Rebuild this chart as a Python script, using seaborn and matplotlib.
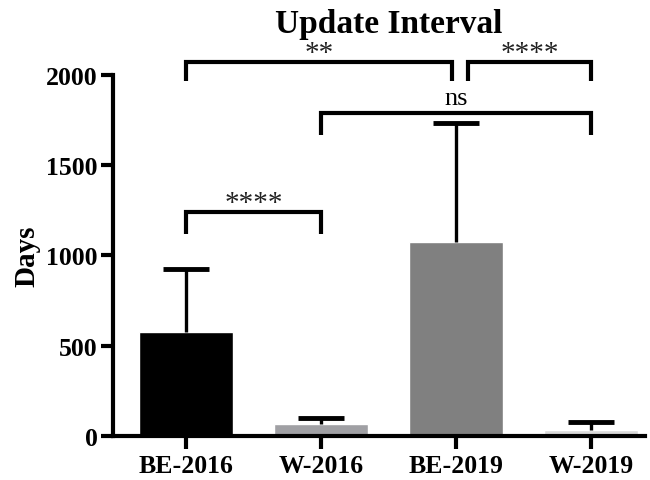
import matplotlib
matplotlib.use("Agg")
import matplotlib.pyplot as plt
import seaborn as sns

# data
groups = ["BE-2016", "W-2016", "BE-2019", "W-2019"]
mean_days = [574, 65, 1076, 35]
upper_days = [922, 100, 1732, 76]
bar_colors = ["#000000", "#a0a0a4", "#808080", "#d9d9d9"]

# significance brackets: (x1, x2, line y, leg bottom, label)
brackets = [
    (0, 1, 1240, 1117, "****"),
    (1, 3, 1790, 1667, "ns"),
    (0, 1.97, 2070, 1968, "**"),
    (2.09, 3, 2070, 1968, "****"),
]

sns.set_style("ticks")
plt.rcParams["font.family"] = ["Liberation Serif", "DejaVu Serif"]

fig = plt.figure(figsize=(6.5, 4.81), dpi=100)
ax = fig.add_axes([0.174, 0.0915, 0.818, 0.751])

sns.barplot(x=groups, y=mean_days, hue=groups, palette=bar_colors,
            legend=False, width=0.7, ax=ax, saturation=1)

# upper-only error bars (SD)
xs = list(range(len(groups)))
ax.vlines(xs, mean_days, upper_days, color="black", lw=2.4)
ax.hlines(upper_days, [x - 0.17 for x in xs], [x + 0.17 for x in xs],
          color="black", lw=3.5)

ax.set_xlim(-0.54, 3.4)
ax.set_ylim(0, 2000)
ax.set_yticks([0, 500, 1000, 1500, 2000])
ax.set_ylabel("Days", fontsize=21, fontweight="bold", labelpad=4,
              color="black")
ax.set_title("Update Interval", fontsize=24, fontweight="bold", pad=31,
             x=0.519, color="black")

for lbl in ax.get_xticklabels() + ax.get_yticklabels():
    lbl.set_fontweight("bold")
ax.tick_params(axis="x", labelsize=18.5, length=9, width=3, pad=4,
               color="black", labelcolor="black")
ax.tick_params(axis="y", labelsize=18.5, length=9, width=3, pad=2,
               color="black", labelcolor="black")

sns.despine(ax=ax)
for side in ["left", "bottom"]:
    ax.spines[side].set_linewidth(3)
    ax.spines[side].set_color("black")

for x1, x2, y, leg, label in brackets:
    ax.plot([x1, x1, x2, x2], [leg, y, y, leg], color="black", lw=3,
            clip_on=False, solid_capstyle="butt", solid_joinstyle="miter")
    if label == "ns":
        ax.text((x1 + x2) / 2, y + 20, label, ha="center", va="bottom",
                fontsize=19, color="black")
    else:
        ax.text((x1 + x2) / 2, y - 22, label, ha="center", va="bottom",
                fontsize=21, color="#222222")

plt.savefig("out.png", dpi=100)
